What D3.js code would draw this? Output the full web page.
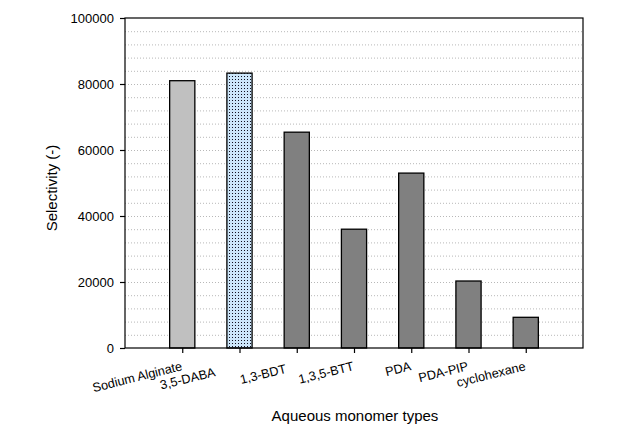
<!DOCTYPE html>
<html>
<head>
<meta charset="utf-8">
<script src="https://cdn.jsdelivr.net/npm/d3@7"></script>
<style>
  html, body { margin: 0; padding: 0; background: #fff; }
  svg { display: block; }
  text { font-family: "Liberation Sans", Arial, sans-serif; fill: #000; }
</style>
</head>
<body>
<svg id="chart" width="624" height="435"></svg>
<script>
// ---- data ----
const categories = ["Sodium Alginate", "3,5-DABA", "1,3-BDT", "1,3,5-BTT", "PDA", "PDA-PIP", "cyclohexane"];
const tickLabels = ["Sodium Alginate", "3,5-DABA\u00A0\u00A0\u00A0\u00A0\u00A0\u00A0\u00A0", "1,3-BDT\u00A0\u00A0\u00A0", "1,3,5-BTT", "PDA", "PDA-PIP", "cyclohexane"];
const selectivity = [81000, 83300, 65400, 36000, 53000, 20300, 9300];
const barStyle = ["light", "pattern", "dark", "dark", "dark", "dark", "dark"];
const yTicks = [0, 20000, 40000, 60000, 80000, 100000];
const gridValues = d3.range(4000, 100000, 4000);
const xTitle = "Aqueous monomer types";
const yTitle = "Selectivity (-)";

// ---- layout ----
const svg = d3.select("#chart");
const margin = { left: 125, right: 41, top: 18, bottom: 87 };
const W = 624, H = 435;
const x0 = margin.left, x1 = W - margin.right, y0 = H - margin.bottom, y1 = margin.top;

const x = d3.scalePoint().domain(categories).range([x0, x1]).padding(1);
const y = d3.scaleLinear().domain([0, 100000]).range([y0, y1]);
const barW = x.step() * 0.44;

const defs = svg.append("defs");
const pat = defs.append("pattern").attr("id", "dots").attr("patternUnits", "userSpaceOnUse")
  .attr("width", 3).attr("height", 3);
pat.append("rect").attr("width", 3).attr("height", 3).attr("fill", "#cce6fa");
pat.append("rect").attr("x", 1).attr("y", 1).attr("width", 1).attr("height", 1).attr("fill", "#101020");

// grid
svg.append("g").selectAll("line").data(gridValues).join("line")
  .attr("x1", x0).attr("x2", x1)
  .attr("y1", d => y(d) + 0.5).attr("y2", d => y(d) + 0.5)
  .attr("stroke", "#b8b8b8").attr("stroke-width", 1).attr("stroke-dasharray", "1,2");

// bars
const fills = { light: "#c0c0c0", dark: "#808080", pattern: "url(#dots)" };
svg.append("g").selectAll("rect").data(categories).join("rect")
  .attr("x", d => x(d) - barW / 2)
  .attr("y", (d, i) => y(selectivity[i]))
  .attr("width", barW)
  .attr("height", (d, i) => y(0) - y(selectivity[i]))
  .attr("fill", (d, i) => fills[barStyle[i]])
  .attr("stroke", "#000").attr("stroke-width", 1.3);

// frame
svg.append("rect").attr("x", x0).attr("y", y1).attr("width", x1 - x0).attr("height", y0 - y1)
  .attr("fill", "none").attr("stroke", "#000").attr("stroke-width", 1.2);

// y axis
const yAxis = svg.append("g").attr("transform", `translate(${x0},0)`)
  .call(d3.axisLeft(y).tickValues(yTicks).tickFormat(d3.format("d")).tickSize(5).tickPadding(6));
yAxis.select(".domain").remove();
yAxis.selectAll("text").style("font-size", "13px").style("font-family", "Liberation Sans, Arial, sans-serif").attr("fill", "#000");
yAxis.selectAll("line").attr("stroke", "#000").attr("stroke-width", 1.2);

// x axis
const xAxis = svg.append("g").attr("transform", `translate(0,${y0})`)
  .call(d3.axisBottom(x).tickSize(5).tickFormat((d, i) => tickLabels[i]));
xAxis.select(".domain").remove();
xAxis.selectAll("line").attr("stroke", "#000").attr("stroke-width", 1.2);
xAxis.selectAll("text")
  .style("font-size", "12.7px").style("font-family", "Liberation Sans, Arial, sans-serif")
  .style("white-space", "pre")
  .attr("fill", "#000")
  .attr("text-anchor", "end")
  .attr("y", 0).attr("dy", 0)
  .attr("transform", "translate(0,22) rotate(-14)");

// titles
svg.append("text").attr("x", (x0 + x1) / 2 + 1).attr("y", 421)
  .attr("text-anchor", "middle").style("font-size", "15px").text(xTitle);
svg.append("text").attr("transform", `translate(57,${(y0 + y1) / 2 + 5}) rotate(-90)`)
  .attr("text-anchor", "middle").style("font-size", "15px").text(yTitle);
</script>
</body>
</html>
